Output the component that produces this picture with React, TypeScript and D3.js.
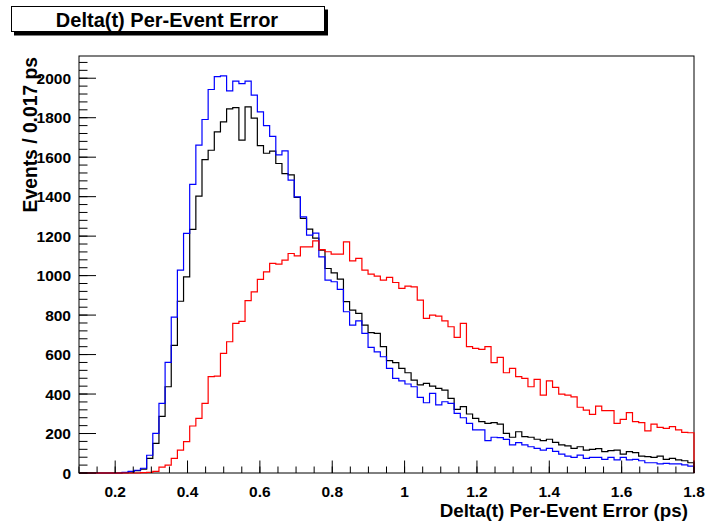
import React from "react";
import * as d3 from "d3";

// Histogram settings: 100 bins from 0.1 to 1.8 ps (0.017 ps / bin)
const xRange: [number, number] = [0.1, 1.8];
const nBins = 100;

const blueCounts: number[] = [
  0, 0, 0, 0, 0, 0, 0, 3, 8, 14,
  24, 90, 201, 353, 560, 790, 1028, 1214, 1462, 1661,
  1791, 1943, 2008, 2012, 1936, 1985, 1973, 1985, 1914, 1830,
  1760, 1705, 1612, 1632, 1484, 1399, 1298, 1205, 1215, 1095,
  977, 969, 930, 817, 749, 771, 707, 636, 614, 589,
  530, 479, 467, 451, 437, 383, 356, 403, 345, 361,
  353, 302, 280, 251, 218, 218, 164, 181, 179, 170,
  142, 154, 142, 133, 125, 116, 125, 110, 96, 86,
  79, 91, 74, 79, 79, 69, 79, 66, 79, 66,
  69, 62, 52, 52, 46, 49, 46, 46, 41, 35,
];

const blackCounts: number[] = [
  0, 0, 0, 0, 0, 0, 0, 2, 6, 12,
  20, 74, 150, 287, 437, 647, 870, 994, 1234, 1403,
  1588, 1635, 1728, 1779, 1845, 1851, 1686, 1855, 1798, 1659,
  1620, 1631, 1568, 1517, 1510, 1396, 1290, 1236, 1190, 1129,
  1036, 1014, 982, 868, 825, 809, 749, 711, 707, 640,
  569, 559, 530, 508, 471, 446, 454, 440, 429, 420,
  378, 322, 336, 299, 277, 260, 251, 255, 248, 201,
  181, 209, 184, 181, 171, 164, 171, 155, 142, 137,
  125, 133, 116, 120, 123, 108, 113, 116, 96, 108,
  103, 86, 83, 79, 86, 69, 74, 66, 62, 52,
];

const redCounts: number[] = [
  0, 0, 0, 0, 0, 0, 0, 0, 0, 0,
  2, 3, 8, 30, 40, 74, 116, 159, 238, 277,
  353, 488, 491, 606, 665, 758, 768, 873, 918, 981,
  1019, 1062, 1058, 1078, 1112, 1100, 1146, 1146, 1176, 1132,
  1121, 1109, 1109, 1171, 1075, 1087, 1028, 1008, 997, 977,
  991, 965, 935, 947, 943, 876, 783, 800, 795, 771,
  741, 687, 758, 640, 631, 626, 640, 559, 586, 508,
  530, 488, 479, 437, 474, 395, 467, 434, 400, 395,
  386, 333, 319, 297, 339, 316, 316, 251, 272, 306,
  260, 255, 213, 248, 231, 226, 235, 218, 206, 204,
];

const xTickValues = [0.2, 0.4, 0.6, 0.8, 1.0, 1.2, 1.4, 1.6, 1.8];
const xTickLabels = ["0.2", "0.4", "0.6", "0.8", "1", "1.2", "1.4", "1.6", "1.8"];
const yTickValues = [0, 200, 400, 600, 800, 1000, 1200, 1400, 1600, 1800, 2000];
const yTickLabels = ["0", "200", "400", "600", "800", "1000", "1200", "1400", "1600", "1800", "2000"];

const chartTitle = "Delta(t) Per-Event Error";
const xTitle = "Delta(t) Per-Event Error (ps)";
const yTitle = "Events / 0.017 ps";

const FONT = "'Liberation Sans', Arial, Helvetica, sans-serif";

export default function App() {
  const W = 709;
  const H = 525;
  const left = 79, right = 694, top = 56, bottom = 473;

  const yMax = 1.05 * (d3.max([...blueCounts, ...blackCounts, ...redCounts]) as number);
  const x = d3.scaleLinear().domain(xRange).range([left, right]);
  const y = d3.scaleLinear().domain([0, yMax]).range([bottom, top]);
  const bw = (xRange[1] - xRange[0]) / nBins;

  const stepPath = (counts: number[]) => {
    const pts: [number, number][] = [[xRange[0], 0]];
    counts.forEach((c, i) => {
      const x0 = xRange[0] + i * bw;
      pts.push([x0, c]);
      pts.push([x0 + bw, c]);
    });
    pts.push([xRange[1], 0]);
    const line = d3
      .line<[number, number]>()
      .x((d) => x(d[0]))
      .y((d) => y(d[1]));
    return line(pts) || "";
  };

  const xMinor = d3.range(0, 35).map((i) => 0.1 + i * 0.05).filter((v) => v <= 1.8001);
  const yMinor = d3.range(0, 60).map((i) => i * 40).filter((v) => v <= yMax);

  return (
    <svg width={W} height={H} style={{ display: "block", position: "absolute", left: 0, top: 0 }}>
      <rect x={0} y={0} width={W} height={H} fill="#fff" />

      {/* title box */}
      <rect x={14} y={9.5} width={314} height={26} fill="#000" />
      <rect x={11.5} y={6.5} width={313} height={25} fill="#fff" stroke="#000" strokeWidth={1} />
      <text
        x={167}
        y={26.5}
        textAnchor="middle"
        fontFamily={FONT}
        fontWeight="bold"
        fontSize={20}
        fill="#000"
      >
        {chartTitle}
      </text>

      {/* histograms */}
      <path d={stepPath(blackCounts)} fill="none" stroke="#000" strokeWidth={1.2} />
      <path d={stepPath(blueCounts)} fill="none" stroke="#0000ff" strokeWidth={1.2} />

      {/* frame */}
      <rect x={left} y={top} width={right - left} height={bottom - top} fill="none" stroke="#000" strokeWidth={1} />

      <path d={stepPath(redCounts)} fill="none" stroke="#ff0000" strokeWidth={1.2} />

      {/* x ticks */}
      {xTickValues.map((v) => (
        <line key={"xM" + v} x1={x(v)} x2={x(v)} y1={bottom} y2={bottom - 12.5} stroke="#000" strokeWidth={1} />
      ))}
      {xMinor.map((v, i) => (
        <line key={"xm" + i} x1={x(v)} x2={x(v)} y1={bottom} y2={bottom - 6.5} stroke="#000" strokeWidth={1} />
      ))}
      {xTickValues.map((v, i) => (
        <text
          key={"xl" + v}
          x={x(v)}
          y={496.5}
          textAnchor="middle"
          fontFamily={FONT}
          fontWeight="bold"
          fontSize={15.5}
          fill="#000"
        >
          {xTickLabels[i]}
        </text>
      ))}

      {/* y ticks */}
      {yTickValues.map((v) => (
        <line key={"yM" + v} x1={left} x2={left + 17} y1={y(v)} y2={y(v)} stroke="#000" strokeWidth={1} />
      ))}
      {yMinor.map((v, i) => (
        <line key={"ym" + i} x1={left} x2={left + 8.5} y1={y(v)} y2={y(v)} stroke="#000" strokeWidth={1} />
      ))}
      {yTickValues.map((v, i) => (
        <text
          key={"yl" + v}
          x={71}
          y={y(v) + 5.5}
          textAnchor="end"
          fontFamily={FONT}
          fontWeight="bold"
          fontSize={15.5}
          fill="#000"
        >
          {yTickLabels[i]}
        </text>
      ))}

      {/* axis titles */}
      <text
        x={688}
        y={516.5}
        textAnchor="end"
        fontFamily={FONT}
        fontWeight="bold"
        fontSize={18.8}
        fill="#000"
      >
        {xTitle}
      </text>
      <text
        transform={`translate(37, 57) rotate(-90)`}
        textAnchor="end"
        fontFamily={FONT}
        fontWeight="bold"
        fontSize={19.3}
        fill="#000"
      >
        {yTitle}
      </text>
    </svg>
  );
}
